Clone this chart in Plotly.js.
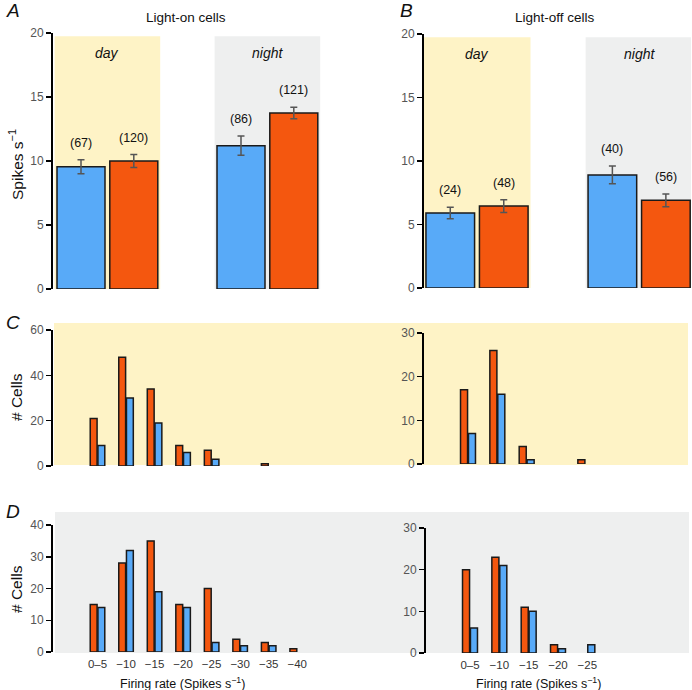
<!DOCTYPE html>
<html>
<head>
<meta charset="utf-8">
<script src="https://cdn.plot.ly/plotly-3.0.1.min.js"></script>
<style>
  body { margin: 0; background: #fff; }
  #chart { width: 692px; height: 690px; }
</style>
</head>
<body>
<div id="chart"></div>
<script>
// top panels: mean firing rate, day / night
const periods = ['day', 'night'];
const onBlue = [9.55, 11.2];
const onBlueErr = [0.55, 0.75];
const onBlueN = [67, 86];
const onOrange = [10.0, 13.75];
const onOrangeErr = [0.5, 0.45];
const onOrangeN = [120, 121];

const offBlue = [5.9, 8.9];
const offBlueErr = [0.45, 0.7];
const offBlueN = [24, 40];
const offOrange = [6.45, 6.9];
const offOrangeErr = [0.5, 0.5];
const offOrangeN = [48, 56];

// histograms of firing rate
const binsOn = ['0–5', '−10', '−15', '−20', '−25', '−30', '−35', '−40'];
const binsOff = ['0–5', '−10', '−15', '−20', '−25'];
const dayOnOrange = [21, 48, 34, 9, 7, 0, 1, 0];
const dayOnBlue = [9, 30, 19, 6, 3, 0, 0, 0];
const dayOffOrange = [17, 26, 4, 0, 1];
const dayOffBlue = [7, 16, 1, 0, 0];
const nightOnOrange = [15, 28, 35, 15, 20, 4, 3, 1];
const nightOnBlue = [14, 32, 19, 14, 3, 2, 2, 0];
const nightOffOrange = [20, 23, 11, 2, 0];
const nightOffBlue = [6, 21, 10, 1, 2];

const BLUE = '#58aaf8';
const ORANGE = '#f4570f';
const DAYBG = '#fef3c6';
const NIGHTBG = '#eeefef';
const FONT = 'Liberation Sans, Arial, sans-serif';
const W = 692, H = 690;

// pixel -> paper helpers (margins are zero)
function px(x) { return x / W; }
function py(y) { return 1 - y / H; }

const barLine = { color: '#1a1a1a', width: 1.5 };
const errStyle = (arr) => ({ type: 'data', array: arr, visible: true, color: '#555', thickness: 1.5, width: 3.5 });

let data = [];

function meanBars(xa, ya, blue, blueErr, orange, orangeErr) {
    data.push({
        type: 'bar', x: periods, y: blue, xaxis: xa, yaxis: ya,
        width: 0.3, offset: -0.315,
        marker: { color: BLUE, line: barLine },
        error_y: errStyle(blueErr), hoverinfo: 'y', showlegend: false
    });
    data.push({
        type: 'bar', x: periods, y: orange, xaxis: xa, yaxis: ya,
        width: 0.3, offset: 0.015,
        marker: { color: ORANGE, line: barLine },
        error_y: errStyle(orangeErr), hoverinfo: 'y', showlegend: false
    });
}

// empty bins get no outline so nothing shows on the axis
function outline(vals) {
    return { color: '#1a1a1a', width: vals.map(v => v > 0 ? 1.5 : 0) };
}

function histBars(xa, ya, bins, orange, blue) {
    data.push({
        type: 'bar', x: bins, y: orange, xaxis: xa, yaxis: ya,
        width: 0.24, offset: -0.255,
        marker: { color: ORANGE, line: outline(orange) }, showlegend: false
    });
    data.push({
        type: 'bar', x: bins, y: blue, xaxis: xa, yaxis: ya,
        width: 0.24, offset: 0.015,
        marker: { color: BLUE, line: outline(blue) }, showlegend: false
    });
}

meanBars('x', 'y', onBlue, onBlueErr, onOrange, onOrangeErr);
meanBars('x2', 'y2', offBlue, offBlueErr, offOrange, offOrangeErr);
histBars('x3', 'y3', binsOn, dayOnOrange, dayOnBlue);
histBars('x4', 'y4', binsOff, dayOffOrange, dayOffBlue);
histBars('x5', 'y5', binsOn, nightOnOrange, nightOnBlue);
histBars('x6', 'y6', binsOff, nightOffOrange, nightOffBlue);

function yAxis(top, bottom, max, dtick) {
    return {
        domain: [py(bottom), py(top)], range: [0, max], dtick: dtick,
        showline: true, linecolor: '#000', linewidth: 2,
        ticks: 'outside', ticklen: 5, tickwidth: 1.5, tickcolor: '#000',
        tickfont: { family: FONT, size: 12, color: '#555' },
        showgrid: false, zeroline: false, fixedrange: true
    };
}
function xAxis(left, right, range, labels) {
    return {
        domain: [px(left), px(right)], range: range, type: 'category',
        showline: false, ticks: '', showgrid: false, zeroline: false,
        showticklabels: labels, fixedrange: true, ticklabelstandoff: 3,
        tickfont: { family: FONT, size: 11.5, color: '#333' }
    };
}

let shapes = [];
// day / night backgrounds behind the mean bars
['x', 'x2'].forEach(function (xa, k) {
    const ya = k === 0 ? 'y' : 'y2';
    periods.forEach(function (p, i) {
        shapes.push({
            type: 'rect', xref: xa, yref: ya, x0: i - 0.33, x1: i + 0.33, y0: 0, y1: 19.75,
            fillcolor: i === 0 ? DAYBG : NIGHTBG, line: { width: 0 }, layer: 'below'
        });
    });
});
// full width bands behind the histograms
shapes.push({ type: 'rect', xref: 'paper', yref: 'paper', x0: px(54), x1: px(688), y0: py(465), y1: py(323),
    fillcolor: DAYBG, line: { width: 0 }, layer: 'below' });
shapes.push({ type: 'rect', xref: 'paper', yref: 'paper', x0: px(55), x1: px(689), y0: py(653), y1: py(512),
    fillcolor: NIGHTBG, line: { width: 0 }, layer: 'below' });

let annotations = [];
function txt(x, y, text, size, extra) {
    return Object.assign({ xref: 'paper', yref: 'paper', x: px(x), y: py(y), text: text, showarrow: false,
        font: { family: FONT, size: size, color: '#111' }, xanchor: 'center', yanchor: 'middle' }, extra || {});
}
annotations.push(txt(13, 11, '<i>A</i>', 19));
annotations.push(txt(406, 11, '<i>B</i>', 19));
annotations.push(txt(13, 322, '<i>C</i>', 19));
annotations.push(txt(13, 511, '<i>D</i>', 19));
annotations.push(txt(186, 17, 'Light-on cells', 13.5));
annotations.push(txt(555, 17, 'Light-off cells', 13.5));
annotations.push(txt(16, 165, 'Spikes s<sup>−1</sup>', 15.5, { textangle: -90 }));
annotations.push(txt(16, 397, '# Cells', 15.5, { textangle: -90 }));
annotations.push(txt(16, 589, '# Cells', 15.5, { textangle: -90 }));
annotations.push(txt(182, 683, 'Firing rate (Spikes s<sup>−1</sup>)', 12.5));
annotations.push(txt(538, 683, 'Firing rate (Spikes s<sup>−1</sup>)', 12.5));

// day / night tags and cell counts
function groupLabels(xa, ya, blue, blueErr, blueN, orange, orangeErr, orangeN) {
    periods.forEach(function (p, i) {
        annotations.push({ xref: xa, yref: ya, x: i, y: 18.4, text: '<i>' + p + '</i>', showarrow: false,
            font: { family: FONT, size: 14, color: '#111' } });
        annotations.push({ xref: xa, yref: ya, x: i - 0.165, y: blue[i] + blueErr[i], yanchor: 'bottom', yshift: 8,
            text: '(' + blueN[i] + ')', showarrow: false, font: { family: FONT, size: 12.5, color: '#111' } });
        annotations.push({ xref: xa, yref: ya, x: i + 0.165, y: orange[i] + orangeErr[i], yanchor: 'bottom', yshift: 8,
            text: '(' + orangeN[i] + ')', showarrow: false, font: { family: FONT, size: 12.5, color: '#111' } });
    });
}
groupLabels('x', 'y', onBlue, onBlueErr, onBlueN, onOrange, onOrangeErr, onOrangeN);
groupLabels('x2', 'y2', offBlue, offBlueErr, offBlueN, offOrange, offOrangeErr, offOrangeN);

const layout = {
    width: W, height: H,
    margin: { l: 0, r: 0, t: 0, b: 0 },
    paper_bgcolor: '#fff', plot_bgcolor: 'rgba(0,0,0,0)',
    barmode: 'group',
    font: { family: FONT },
    xaxis: xAxis(53, 325, [-0.34, 1.36], false),
    yaxis: yAxis(33, 289, 20, 5),
    xaxis2: xAxis(424, 691, [-0.327, 1.32], false),
    yaxis2: Object.assign(yAxis(34, 288, 20, 5), { anchor: 'x2' }),
    xaxis3: Object.assign(xAxis(53, 340, [-1.56, 8.5], false), { anchor: 'y3' }),
    yaxis3: Object.assign(yAxis(330, 466, 60, 20), { anchor: 'x3' }),
    xaxis4: Object.assign(xAxis(424, 688, [-1.5, 7.5], false), { anchor: 'y4' }),
    yaxis4: Object.assign(yAxis(333, 464, 30, 10), { anchor: 'x4' }),
    xaxis5: Object.assign(xAxis(53, 340, [-1.56, 8.5], true), { anchor: 'y5' }),
    yaxis5: Object.assign(yAxis(525, 652, 40, 10), { anchor: 'x5' }),
    xaxis6: Object.assign(xAxis(426, 690, [-1.5, 7.5], true), { anchor: 'y6' }),
    yaxis6: Object.assign(yAxis(528, 653, 30, 10), { anchor: 'x6' }),
    shapes: shapes,
    annotations: annotations
};
layout.xaxis.anchor = 'y';
layout.yaxis.anchor = 'x';
layout.xaxis2.anchor = 'y2';

Plotly.newPlot('chart', data, layout, { displayModeBar: false, staticPlot: true });
</script>
</body>
</html>
